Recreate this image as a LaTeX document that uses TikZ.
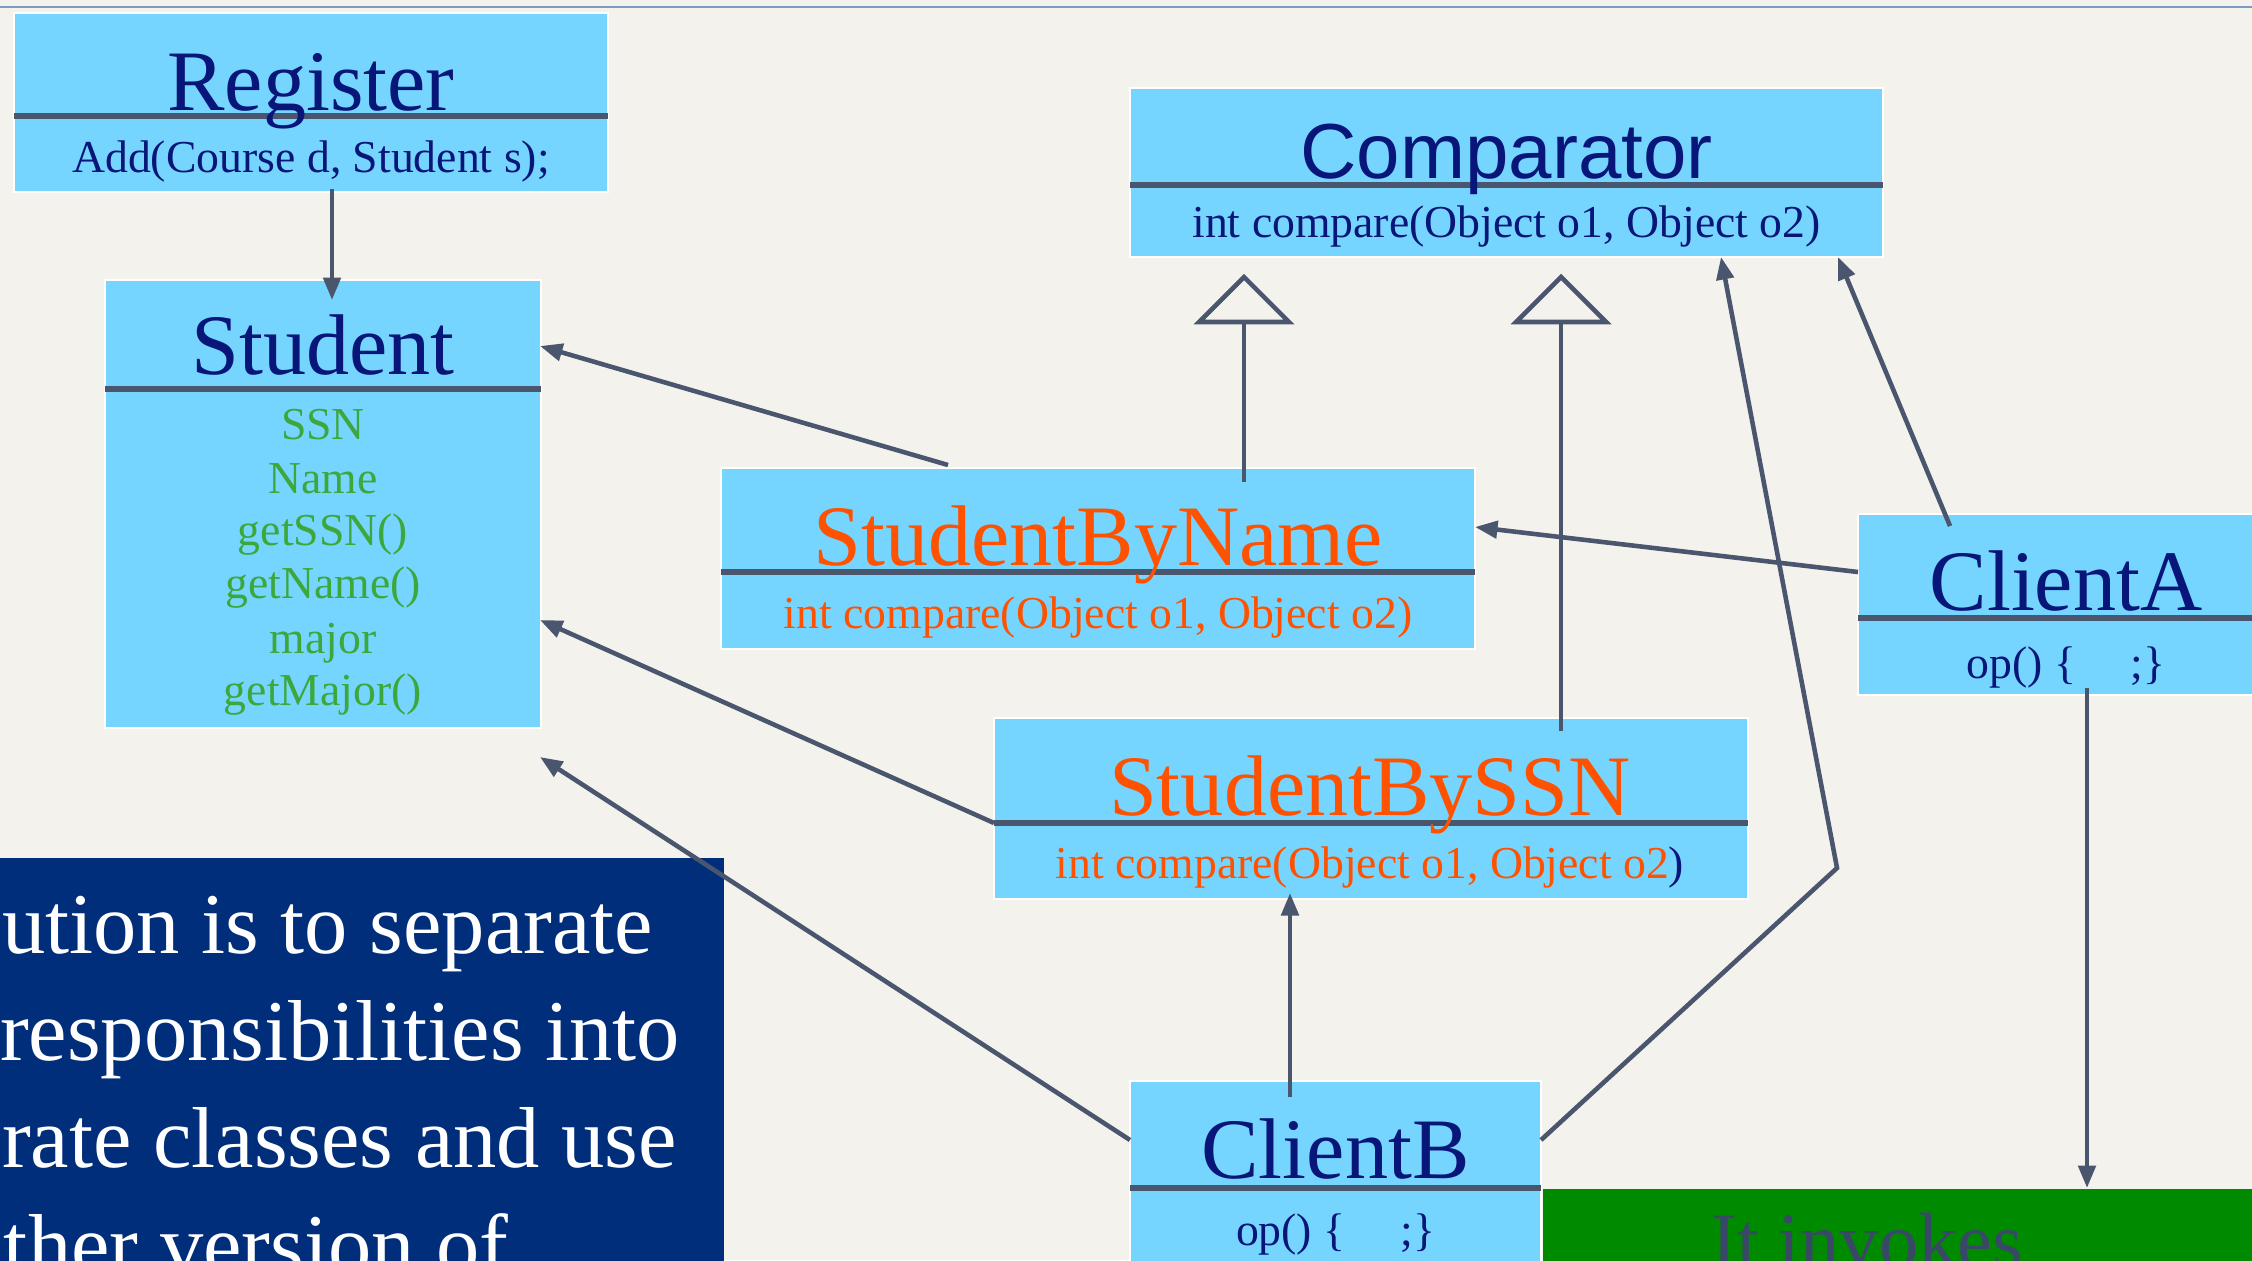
\documentclass[tikz,border=0pt]{standalone}
\usepackage{fontspec}
\setmainfont{Liberation Serif}
\newfontfamily\cmpsans{Liberation Sans}
\usetikzlibrary{arrows.meta}
\definecolor{bgc}{RGB}{244,242,237}
\definecolor{boxc}{RGB}{118,213,254}
\definecolor{linec}{RGB}{74,85,110}
\definecolor{navyc}{RGB}{8,22,122}
\definecolor{greenc}{RGB}{60,168,60}
\definecolor{orangec}{RGB}{255,82,0}
\definecolor{notec}{RGB}{1,46,122}
\definecolor{gboxc}{RGB}{0,138,0}
\definecolor{topc}{RGB}{125,154,192}
\definecolor{invc}{RGB}{58,72,104}
\tikzset{
  cls/.style={draw=white, line width=0.45pt, fill=boxc, inner sep=0pt, outer sep=0pt},
  divider/.style={draw=linec, line width=1.5pt},
  conn/.style={draw=linec, line width=1.3pt, -{Triangle[length=6.4pt,width=4.9pt]}},
  wire/.style={draw=linec, line width=1.3pt},
  gen/.style={draw=linec, line width=1.3pt, fill=bgc, line join=miter},
  txt/.style={anchor=base, inner sep=0pt, outer sep=0pt},
  ttl/.style={txt, text=navyc, font=\fontsize{24.5}{28}\selectfont},
  mth/.style={txt, text=navyc, font=\fontsize{13}{15}\selectfont},
  attr/.style={txt, text=greenc, font=\fontsize{13}{15}\selectfont},
  notetxt/.style={anchor=base west, inner sep=0pt, outer sep=0pt, text=white, font=\fontsize{24.6}{28}\selectfont},
}
\begin{document}
\begin{tikzpicture}[x=0.01cm, y=-0.01cm]
\path[use as bounding box] (0,0) rectangle (2252,1260);
\clip (0,0) rectangle (2252,1260);
\fill[bgc] (0,0) rectangle (2252,1260);
\draw[topc, line width=0.6pt] (0,7) -- (2252,7);

% background panels
\node[fill=notec, inner sep=0pt, minimum width=7.44cm, minimum height=4.22cm] (note) at (352,1069) {};
\node[fill=gboxc, inner sep=0pt, minimum width=7.29cm, minimum height=0.91cm] (gbox) at (1907.5,1234.5) {};

% class boxes
\node[cls, minimum width=5.94cm, minimum height=1.79cm] (reg) at (311,102.5) {};
\node[cls, minimum width=4.36cm, minimum height=4.48cm] (stu) at (323,504) {};
\node[cls, minimum width=7.53cm, minimum height=1.69cm] (cmp) at (1506.5,172.5) {};
\node[cls, minimum width=7.54cm, minimum height=1.81cm] (sbn) at (1098,558.5) {};
\node[cls, minimum width=7.54cm, minimum height=1.81cm] (sbs) at (1371,808.5) {};
\node[cls, minimum width=4.22cm, minimum height=1.81cm] (cla) at (2069,604.5) {};
\node[cls, minimum width=4.11cm, minimum height=2.09cm] (clb) at (1335.5,1185.5) {};

% dividers
\draw[divider] (14,116) -- (608,116);
\draw[divider] (105,389) -- (541,389);
\draw[divider] (1130,185) -- (1883,185);
\draw[divider] (721,572) -- (1475,572);
\draw[divider] (994,823) -- (1748,823);
\draw[divider] (1858,618) -- (2260,618);
\draw[divider] (1130,1188) -- (1541,1188);

% texts
\node[ttl] (regT) at (311,110) {Register};
\node[mth] (regM) at (311,172) {Add(Course d, Student s);};
\node[ttl] (stuT) at (323,374) {Student};
\node[attr] (stuA1) at (323,439) {SSN};
\node[attr] (stuA2) at (323,493) {Name};
\node[attr] (stuA3) at (323,545) {getSSN()};
\node[attr] (stuA4) at (323,598) {getName()};
\node[attr] (stuA5) at (323,653) {major};
\node[attr] (stuA6) at (323,705) {getMajor()};
\node[txt, text=navyc, font=\cmpsans\fontsize{22.2}{26}\selectfont] (cmpT) at (1506.5,178) {Comparator};
\node[mth] (cmpM) at (1506.5,237) {int compare(Object o1, Object o2)};
\node[ttl, text=orangec] (sbnT) at (1098,565) {StudentByName};
\node[mth, text=orangec] (sbnM) at (1098,628) {int compare(Object o1, Object o2)};
\node[ttl, text=orangec] (sbsT) at (1370,815) {StudentBySSN};
\node[mth, text=orangec] (sbsM) at (1370,878) {int compare(Object o1, Object o2\textcolor{navyc}{)}};
\node[ttl] (claT) at (2066,610) {ClientA};
\node[mth] (claM) at (2066,678) {op() \{\hspace*{1.2em};\}};
\node[ttl] (clbT) at (1335.5,1178) {ClientB};
\node[mth] (clbM) at (1335.5,1245) {op() \{\hspace*{1.2em};\}};

\node[notetxt] (n1) at (2,953) {ution is to separate};
\node[notetxt] (n2) at (0,1060) {responsibilities into};
\node[notetxt] (n3) at (2,1167) {rate classes and use};
\node[notetxt] (n4) at (4,1274) {ther version of};
\node[txt, text=invc, font=\fontsize{22.3}{26}\selectfont] (inv) at (1867,1267) {It invokes};

% connector end points
\coordinate (c1s) at (332,189);   \coordinate (c1e) at (332,300);
\coordinate (c2s) at (948,465);   \coordinate (c2e) at (540,346);
\coordinate (c3s) at (994,823);   \coordinate (c3e) at (540,620);
\coordinate (c4s) at (1130,1140); \coordinate (c4e) at (540,757);
\coordinate (g1s) at (1244,482);  \coordinate (g1b) at (1244,322);
\coordinate (g2s) at (1561,731);  \coordinate (g2b) at (1561,322);
\coordinate (c7s) at (1858,572);  \coordinate (c7e) at (1475,527);
\coordinate (c8s) at (1950,526);  \coordinate (c8e) at (1838,257);
\coordinate (c9s) at (1541,1140); \coordinate (c9m) at (1837,868); \coordinate (c9e) at (1721,257);
\coordinate (c10s) at (1290,1097); \coordinate (c10e) at (1290,893);
\coordinate (c11s) at (2087,688); \coordinate (c11e) at (2087,1188);

% connectors
\draw[conn] (c1s) -- (c1e);
\draw[conn] (c2s) -- (c2e);
\draw[conn] (c3s) -- (c3e);
\draw[conn] (c4s) -- (c4e);
\draw[wire] (g1s) -- (g1b);
\draw[gen] (1199,322) -- (1244,277) -- (1289,322) -- cycle;
\draw[wire] (g2s) -- (g2b);
\draw[gen] (1516,322) -- (1561,277) -- (1606,322) -- cycle;
\draw[conn] (c7s) -- (c7e);
\draw[conn] (c8s) -- (c8e);
\draw[conn] (c9s) -- (c9m) -- (c9e);
\draw[conn] (c10s) -- (c10e);
\draw[conn] (c11s) -- (c11e);
\end{tikzpicture}
\end{document}
